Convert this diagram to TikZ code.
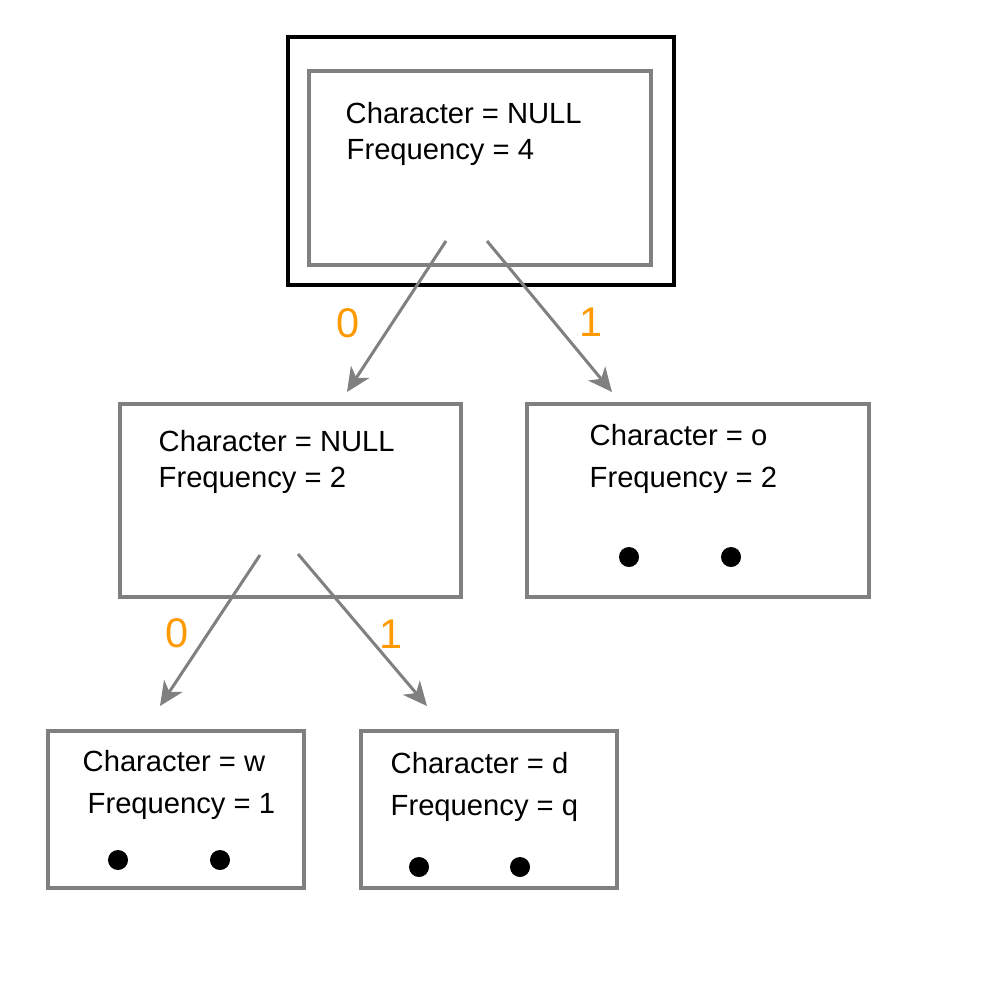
\documentclass[tikz,border=0pt]{standalone}
\usepackage{fontspec}
\setmainfont{Liberation Sans}
\usetikzlibrary{arrows.meta}
\definecolor{boxgray}{HTML}{808080}
\definecolor{bitorange}{HTML}{FF9900}
\begin{document}
\begin{tikzpicture}[x=0.01cm,y=-0.01cm,
  graybox/.style={draw=boxgray,line width=0.04cm},
  blackbox/.style={draw=black,line width=0.045cm},
  txt/.style={anchor=base west,inner sep=0pt,font=\fontsize{8.3pt}{10pt}\selectfont},
  bit/.style={anchor=base,inner sep=0pt,text=bitorange,font=\fontsize{11.8pt}{14pt}\selectfont},
  edge/.style={draw=boxgray,line width=0.03cm,-{Stealth[length=0.24cm,width=0.22cm,inset=0.07cm]}},
  dot/.style={circle,fill=black,inner sep=0pt,minimum size=0.2cm}]
\useasboundingbox (0,0) rectangle (1000,1000);
% boxes
\draw[blackbox] (288,37) rectangle (674,285);
\draw[graybox] (309,71) rectangle (651,265);
\draw[graybox] (120,404) rectangle (461,597);
\draw[graybox] (527,404) rectangle (869,597);
\draw[graybox] (48,731) rectangle (304,888);
\draw[graybox] (361,731) rectangle (617,888);
% texts
\node[txt] (r1) at (345,123) {Character = NULL};
\node[txt] (r2) at (346,159) {Frequency = 4};
\node[txt] (a1) at (158,451) {Character = NULL};
\node[txt] (a2) at (158,487) {Frequency = 2};
\node[txt] (b1) at (589,445) {Character = o};
\node[txt] (b2) at (589,487) {Frequency = 2};
\node[txt] (c1) at (82,771) {Character = w};
\node[txt] (c2) at (87,813) {Frequency = 1};
\node[txt] (d1) at (390,773) {Character = d};
\node[txt] (d2) at (390,815) {Frequency = q};
% dots
\node[dot] (bd1) at (629,557) {};
\node[dot] (bd2) at (731,557) {};
\node[dot] (cd1) at (118,860) {};
\node[dot] (cd2) at (220,860) {};
\node[dot] (dd1) at (419,867) {};
\node[dot] (dd2) at (520,867) {};
% arrow endpoints
\coordinate (rs0) at (446,241);
\coordinate (rs1) at (487,241);
\coordinate (re0) at (347,392);
\coordinate (re1) at (612,392);
\coordinate (as0) at (260,555);
\coordinate (as1) at (298,554);
\coordinate (ae0) at (160,706);
\coordinate (ae1) at (427,706);
\draw[edge] (rs0) -- (re0);
\draw[edge] (rs1) -- (re1);
\draw[edge] (as0) -- (ae0);
\draw[edge] (as1) -- (ae1);
% bit labels
\node[bit] (l0) at (348,337) {0};
\node[bit] (l1) at (591,336) {1};
\node[bit] (m0) at (177,647) {0};
\node[bit] (m1) at (391,648) {1};
\end{tikzpicture}
\end{document}
